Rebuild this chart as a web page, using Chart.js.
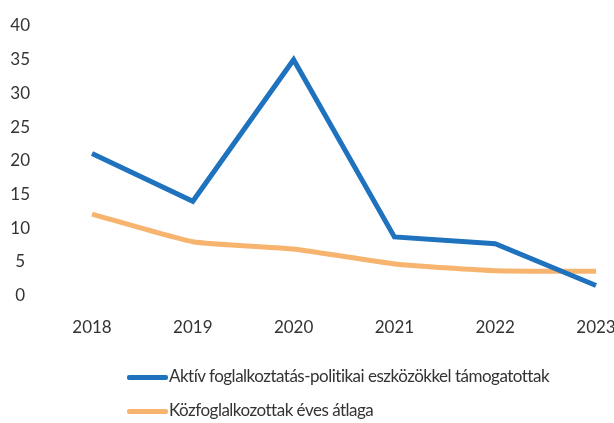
<!DOCTYPE html>
<html lang="hu">
  <head>
    <meta charset="UTF-8" />
    <title>Foglalkoztatás</title>
    <script src="https://cdn.jsdelivr.net/npm/chart.js@4.4.0/dist/chart.umd.min.js"></script>
    <style>
      html, body { margin: 0; padding: 0; background: #fff; width: 614px; height: 423px; overflow: hidden; }
      #chart { position: absolute; left: 0; top: 0; }
      .leg { position: absolute; left: 127px; height: 20px; line-height: 20px; white-space: nowrap;
        font-family: Lato, sans-serif; font-size: 17px; letter-spacing: -0.5px; color: #333; }
      .leg span.sw { display: inline-block; width: 41px; height: 5px; vertical-align: middle; border-radius: 2px; margin-right: 1px; }
    </style>
  </head>
  <body>
    <canvas id="chart" width="614" height="368"></canvas>
    <div id="legend"></div>
    <script>
      const years = ['2018', '2019', '2020', '2021', '2022', '2023']
      const aktiv = [21.1, 14, 35, 8.7, 7.7, 1.5]
      const kozfog = [12.1, 8, 6.9, 4.7, 3.7, 3.6]
      const yTicks = [0, 5, 10, 15, 20, 25, 30, 35, 40]

      const seriesNames = ['Aktív foglalkoztatás-politikai eszközökkel támogatottak', 'Közfoglalkozottak éves átlaga']
      const colors = ['#1f72bd', '#f6b46f']
      const font = 'Lato, sans-serif'

      const ctx = document.getElementById('chart')
      const chart = new Chart(ctx, {
        type: 'line',
        data: {
          labels: years,
          datasets: [
            { label: seriesNames[0], data: aktiv, borderColor: colors[0], borderWidth: 5, pointRadius: 0, tension: 0 },
            { label: seriesNames[1], data: kozfog, borderColor: colors[1], borderWidth: 5, pointRadius: 0, tension: 0.15 },
          ],
        },
        options: {
          responsive: false,
          animation: false,
          layout: { padding: { top: 26, right: 18, bottom: 8, left: 0 } },
          plugins: { legend: { display: false }, tooltip: { enabled: false } },
          scales: {
            x: {
              offset: false,
              grid: { display: false, drawTicks: false },
              border: { display: false },
              ticks: { color: '#333', font: { family: font, size: 17 }, padding: 22, maxRotation: 0 },
              afterFit: (s) => { s.paddingLeft = 0; s.paddingRight = 0 },
            },
            y: {
              min: 0,
              max: 40,
              afterBuildTicks: (s) => { s.ticks = yTicks.map((v) => ({ value: v })) },
              afterFit: (s) => { s.width = 92; s.paddingTop = 0; s.paddingBottom = 0 },
              grid: { display: false, drawTicks: false },
              border: { display: false },
              ticks: { color: '#333', font: { family: font, size: 17 }, padding: 62, crossAlign: 'center' },
            },
          },
        },
      })

      // legend below the chart, one row per series
      const legend = document.getElementById('legend')
      chart.data.datasets.forEach((ds, i) => {
        const row = document.createElement('div')
        row.className = 'leg'
        row.style.top = (366 + i * 34) + 'px'
        const sw = document.createElement('span')
        sw.className = 'sw'
        sw.style.background = ds.borderColor
        row.appendChild(sw)
        row.appendChild(document.createTextNode(ds.label))
        legend.appendChild(row)
      })
    </script>
  </body>
</html>
